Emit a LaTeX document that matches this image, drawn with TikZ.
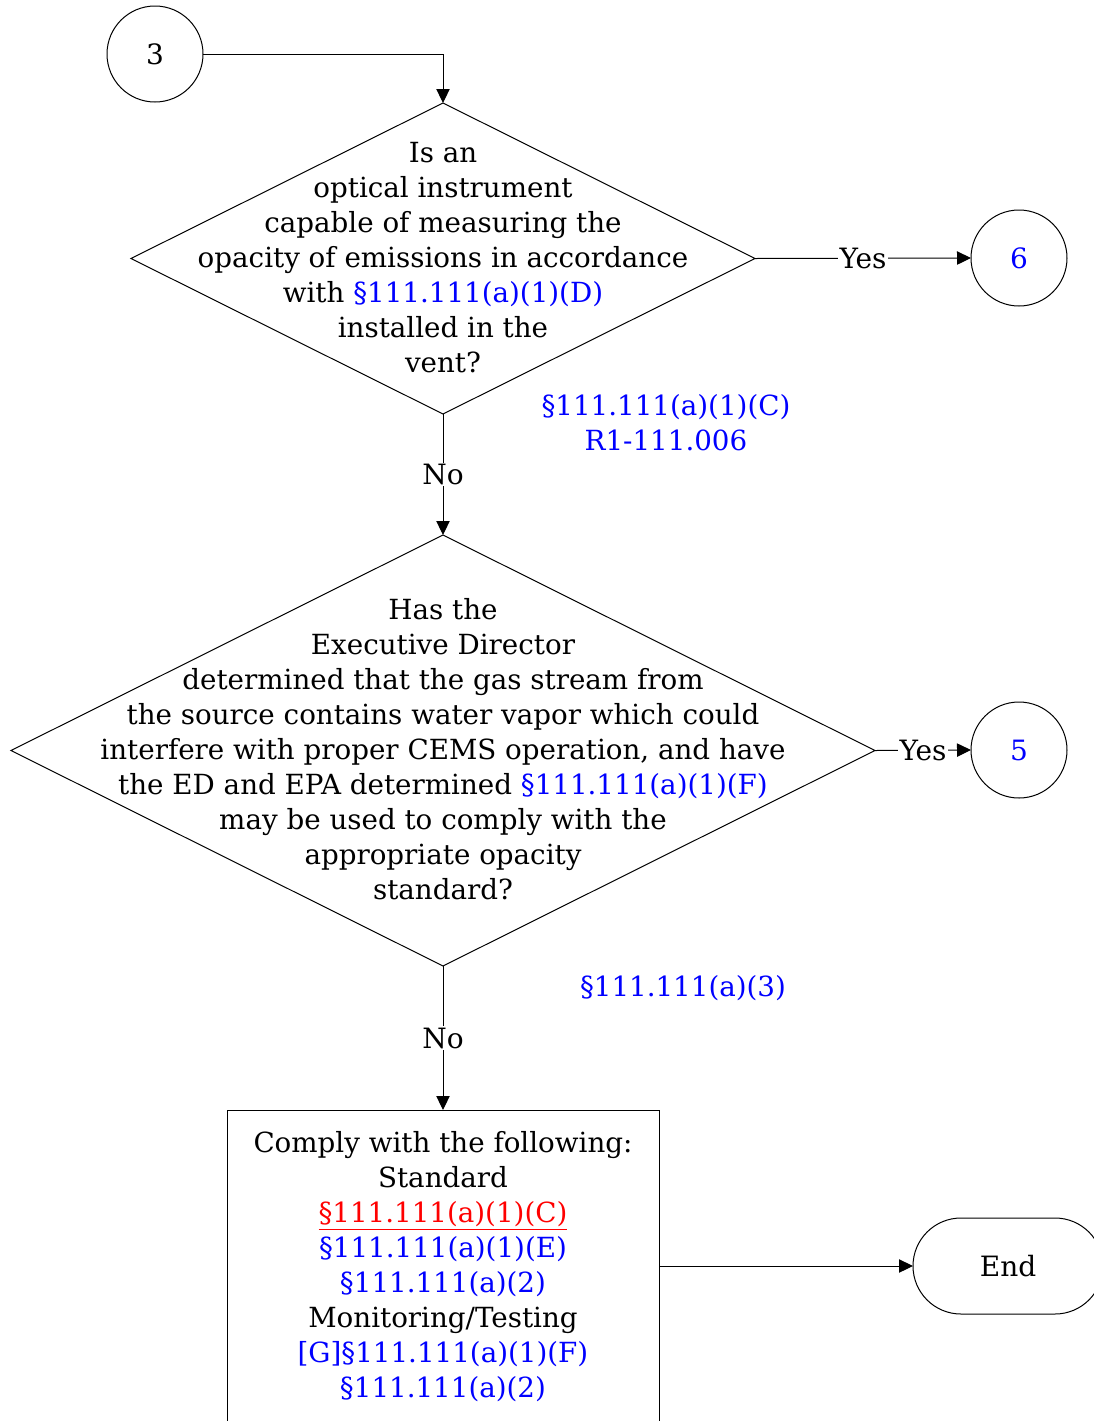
\documentclass[tikz,border=0pt]{standalone}
\usepackage{fontspec}
\setmainfont{DejaVu Serif}
\usetikzlibrary{shapes.geometric,arrows.meta}
\definecolor{refblue}{RGB}{0,0,255}
\definecolor{refred}{RGB}{255,0,0}
\begin{document}
\begin{tikzpicture}[x=0.75pt,y=-0.75pt,
 line width=0.75pt,
 arr/.style={-{Triangle[length=10.5pt,width=10pt]}},
 conn/.style={draw, circle, minimum size=72pt, inner sep=0pt, outer sep=0pt, font=\fontsize{21}{26.25}\selectfont},
 dec/.style={draw, diamond, inner sep=0pt, outer sep=0pt},
 txt/.style={align=center, font=\fontsize{20.8}{26.25}\selectfont, inner sep=0pt},
 lbl/.style={fill=white, inner sep=1pt, font=\fontsize{21}{26.25}\selectfont},
 ref/.style={txt, text=refblue}]
\useasboundingbox (0,0) rectangle (1094,1421);
\clip (0,0) rectangle (1094,1421);
\node[conn] (c3) at (155,54) {3};
\node[dec, minimum width=468pt, minimum height=233.25pt] (d1) at (443,258.5) {};
\node[txt] (t1) at ([yshift=1pt]d1.center) {Is an\\optical instrument\\capable of measuring the\\opacity of emissions in accordance\\with \textcolor{refblue}{§111.111(a)(1)(D)}\\installed in the\\vent?};
\node[conn] (c6) at (1019,258) {\textcolor{refblue}{6}};
\node[ref] (r1) at (666,423) {§111.111(a)(1)(C)\\R1-111.006};
\node[dec, minimum width=648pt, minimum height=323.25pt] (d2) at (443,750.5) {};
\node[txt] (t2) at ([yshift=1pt]d2.center) {Has the\\Executive Director\\determined that the gas stream from\\the source contains water vapor which could\\interfere with proper CEMS operation, and have\\the ED and EPA determined \textcolor{refblue}{§111.111(a)(1)(F)}\\may be used to comply with the\\appropriate opacity\\standard?};
\node[conn] (c5) at (1019,750) {\textcolor{refblue}{5}};
\node[ref] (r2) at (683,988) {§111.111(a)(3)};
\node[draw, minimum width=324pt, minimum height=247.5pt, inner sep=0pt, outer sep=0pt, anchor=north] (box) at (443,1110) {};
\node[txt] (t3) at (443,1267) {Comply with the following:\\Standard\\{\color{refred}\underline{§111.111(a)(1)(C)}}\\\textcolor{refblue}{§111.111(a)(1)(E)}\\\textcolor{refblue}{§111.111(a)(2)}\\Monitoring/Testing\\\textcolor{refblue}{[G]§111.111(a)(1)(F)}\\\textcolor{refblue}{§111.111(a)(2)}};
\node[draw, rounded corners=36pt, minimum width=142.5pt, minimum height=72pt, inner sep=0pt, outer sep=0pt, font=\fontsize{21}{26.25}\selectfont] (endn) at (1008,1266) {End};
\draw[arr] (c3.east) -| (d1.north);
\draw[arr] (d1.east) -- node[lbl]{Yes} (c6.west);
\draw[arr] (d1.south) -- node[lbl]{No} (d2.north);
\draw[arr] (d2.east) -- node[lbl]{Yes} (c5.west);
\draw[arr] (d2.south) -- node[lbl]{No} (box.north);
\draw[arr] (box.east |- endn.west) -- (endn.west);
\end{tikzpicture}
\end{document}
